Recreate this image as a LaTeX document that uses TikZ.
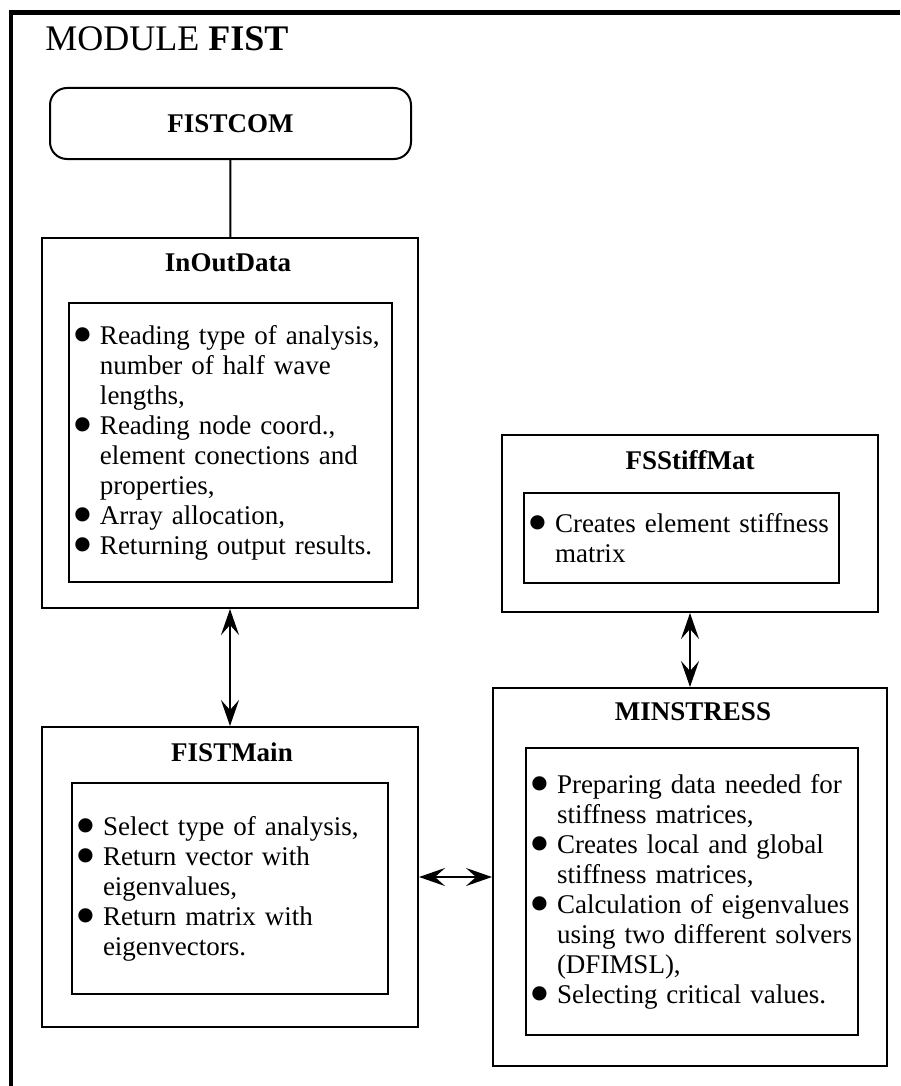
\documentclass[tikz,border=0pt]{standalone}
\usepackage{fontspec}
\setmainfont{Liberation Serif}
\usepackage{graphicx}
\usetikzlibrary{arrows.meta}

% bullet and continuation indent for the lists
\newcommand{\bitem}{\makebox[12.5pt][l]{\hspace*{-1.5pt}\smash{\raisebox{-0.38em}{\scalebox{2.2}{\textbullet}}}}}
\newcommand{\bcont}{\hspace*{12.5pt}}

\tikzset{
  outerbox/.style={draw, rectangle, line width=1pt, inner sep=0pt},
  innerbox/.style={draw, rectangle, line width=1pt, inner xsep=3pt, inner ysep=0pt, align=left,
    font=\fontsize{13.5}{15}\selectfont},
  boxtitle/.style={font=\fontsize{13.5}{15}\selectfont\bfseries, inner sep=0pt},
  link/.style={line width=1.1pt, {Stealth[length=13pt,width=9pt,inset=5pt]}-{Stealth[length=13pt,width=9pt,inset=5pt]}}
}

\begin{document}
\begin{tikzpicture}[x=0.5pt, y=-0.5pt]
\useasboundingbox (0,0) rectangle (900,1086);
% frame of the module
\draw[line width=2.3pt] (11,1086) -- (11,12.5) -- (900,12.5);
\node[anchor=base west, inner sep=0pt, font=\fontsize{18}{20}\selectfont] (module) at (45,51) {MODULE \textbf{FIST}};

\node[outerbox, rounded corners=8.5pt, minimum width=180.5pt, minimum height=35.5pt, boxtitle] (fistcom) at (230.5,123.5) {FISTCOM};

% InOutData
\node[outerbox, minimum width=188pt, minimum height=185pt] (inout) at (230,423) {};
\node[boxtitle] (inouttitle) at (228,263) {InOutData};
\node[innerbox, minimum width=161.5pt, text width=155.5pt, minimum height=139.5pt] (inoutlist) at (230.5,442.5) {%
\bitem Reading type of analysis,\\
\bcont number of half wave\\
\bcont lengths,\\
\bitem Reading node coord.,\\
\bcont element conections and\\
\bcont properties,\\
\bitem Array allocation,\\
\bitem Returning output results.};

% FISTMain
\node[outerbox, minimum width=188pt, minimum height=150pt] (fistmain) at (230,877) {};
\node[boxtitle] (fistmaintitle) at (232,752) {FISTMain};
\node[innerbox, minimum width=158pt, text width=152pt, minimum height=105.5pt] (fistmainlist) at (230,888.5) {%
\bitem Select type of analysis,\\
\bitem Return vector with\\
\bcont eigenvalues,\\
\bitem Return matrix with\\
\bcont eigenvectors.};

% FSStiffMat
\node[outerbox, minimum width=188pt, minimum height=88.5pt] (fsstiff) at (690,523.5) {};
\node[boxtitle] (fsstifftitle) at (690,460) {FSStiffMat};
\node[innerbox, minimum width=157.5pt, text width=151.5pt, minimum height=45pt] (fsstifflist) at (681.5,538) {%
\bitem Creates element stiffness\\
\bcont matrix};

% MINSTRESS
\node[outerbox, minimum width=197pt, minimum height=189pt] (minstress) at (690,877) {};
\node[boxtitle] (minstresstitle) at (693,712) {MINSTRESS};
\node[innerbox, minimum width=166pt, text width=160pt, minimum height=143.5pt] (minstresslist) at (692,891.5) {%
\bitem Preparing data needed for\\
\bcont stiffness matrices,\\
\bitem Creates local and global\\
\bcont stiffness matrices,\\
\bitem Calculation of eigenvalues\\
\bcont using two different solvers\\
\bcont (DFIMSL),\\
\bitem Selecting critical values.};

\draw[line width=1pt] (fistcom) -- (inout);
\draw[link] (inout) -- (fistmain);
\draw[link] (fsstiff) -- (minstress);
\draw[link] (fistmain) -- (minstress);
\end{tikzpicture}
\end{document}
